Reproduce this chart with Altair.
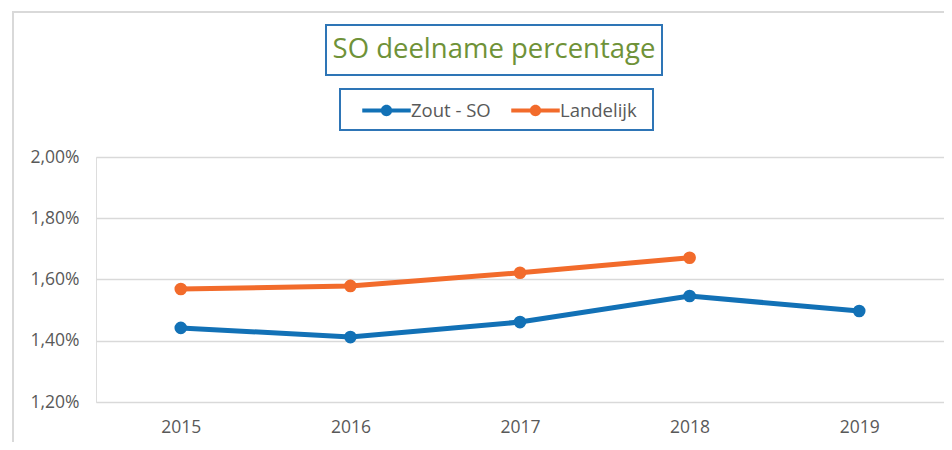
import altair as alt
import pandas as pd

years = ["2015", "2016", "2017", "2018", "2019"]
zout_so = [1.442, 1.412, 1.461, 1.546, 1.497]
landelijk = [1.569, 1.579, 1.622, 1.671, None]
series_names = ["Zout - SO", "Landelijk"]
series_colors = ["#1271b6", "#f26b2b"]
y_ticks = [1.2, 1.4, 1.6, 1.8, 2.0]
title_text = "SO deelname percentage"

rows = []
for name, vals in zip(series_names, [zout_so, landelijk]):
    for yr, v in zip(years, vals):
        if v is not None:
            rows.append({"Jaar": yr, "Reeks": name, "Waarde": v})
df = pd.DataFrame(rows)

FONT = "Open Sans"
legend_path = ("M-1,-0.085 L-0.2,-0.085 L-0.2,0.085 L-1,0.085 Z "
               "M0.2,-0.085 L1,-0.085 L1,0.085 L0.2,0.085 Z "
               "M0.235,0 A0.235,0.235 0 1,1 -0.235,0 A0.235,0.235 0 1,1 0.235,0 Z")

x_enc = alt.X("Jaar:O", scale=alt.Scale(padding=0.5), sort=years,
              axis=alt.Axis(title=None, labelAngle=0, domain=False, ticks=False,
                            labelPadding=16, labelFontSize=17.5, labelColor="#595959",
                            labelFont=FONT, grid=False))
y_enc = alt.Y("Waarde:Q", scale=alt.Scale(domain=[1.2, 2.0], nice=False, zero=False),
              axis=alt.Axis(title=None, values=y_ticks, domain=False, ticks=False,
                            labelPadding=17, labelFontSize=17.5, labelColor="#595959",
                            labelFont=FONT, gridColor="#d9d9d9", gridWidth=1.5,
                            labelExpr="replace(format(datum.value, '.2f'), '.', ',') + '%'"))
color_enc = alt.Color("Reeks:N", sort=series_names,
                      scale=alt.Scale(domain=series_names, range=series_colors),
                      legend=alt.Legend(title=None, orient="none", direction="horizontal",
                                        legendX=266, legendY=-71,
                                        symbolType=legend_path, symbolSize=2350,
                                        symbolStrokeWidth=0, symbolOpacity=1,
                                        labelFontSize=18.5, labelColor="#595959", labelFont=FONT,
                                        labelOffset=0, columnPadding=20, padding=0))

lines = alt.Chart(df).mark_line(strokeWidth=5).encode(x=x_enc, y=y_enc, color=color_enc)
points = alt.Chart(df).mark_point(filled=True, size=160, opacity=1).encode(
    x=x_enc, y=y_enc, color=alt.Color("Reeks:N", sort=series_names,
                                      scale=alt.Scale(domain=series_names, range=series_colors),
                                      legend=None))

one = pd.DataFrame({"t": [title_text]})
outer = alt.Chart(one).mark_rect(fill=None, stroke="#d9d9d9", strokeWidth=2).encode(
    x=alt.value(-83), x2=alt.value(870), y=alt.value(-145), y2=alt.value(320))
title_box = alt.Chart(one).mark_rect(fill="white", stroke="#2e75b6", strokeWidth=2).encode(
    x=alt.value(230), x2=alt.value(566), y=alt.value(-132), y2=alt.value(-82))
legend_box = alt.Chart(one).mark_rect(fill="white", stroke="#2e75b6", strokeWidth=2).encode(
    x=alt.value(244), x2=alt.value(557), y=alt.value(-68), y2=alt.value(-27))
title = alt.Chart(one).mark_text(font=FONT, fontSize=27.5, color="#6f9238",
                                 align="center", baseline="middle").encode(
    text="t:N", x=alt.value(398), y=alt.value(-107))

chart = alt.layer(outer, title_box, legend_box, title, lines, points).properties(
    width=848, height=245,
    autosize=alt.AutoSizeParams(type="none"),
    padding={"left": 88, "top": 149, "right": 0, "bottom": 40},
).configure_view(stroke=None).configure(background="white")

chart.save("out.html", embed_options={"renderer": "svg", "actions": False})
